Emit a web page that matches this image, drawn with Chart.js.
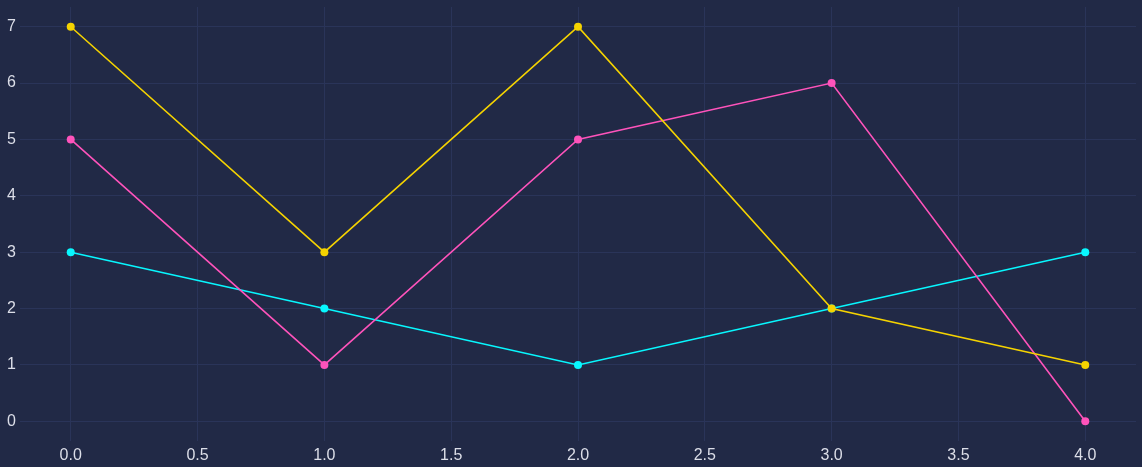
<!DOCTYPE html>
<html>
<head>
<meta charset="utf-8">
<script src="https://cdn.jsdelivr.net/npm/chart.js@4"></script>
<style>
  html, body { margin: 0; padding: 0; background: #212946; }
  #wrap { width: 1142px; height: 467px; }
</style>
</head>
<body>
<div id="wrap"><canvas id="lineChart"></canvas></div>
<script>
// data
const xValues = [0, 1, 2, 3, 4];
const cyanValues = [3, 2, 1, 2, 3];
const pinkValues = [5, 1, 5, 6, 0];
const yellowValues = [7, 3, 7, 2, 1];
const xTicks = [0, 0.5, 1, 1.5, 2, 2.5, 3, 3.5, 4];
const yTicks = [0, 1, 2, 3, 4, 5, 6, 7];

const gridColor = '#2A3459';
const textColor = '#dcdee8';

function toPoints(ys) {
    return xValues.map((x, i) => ({ x: x, y: ys[i] }));
}

function makeSet(ys, color, order) {
    return {
        data: toPoints(ys),
        borderColor: color,
        backgroundColor: color,
        borderWidth: 1.6,
        pointRadius: 4,
        pointBorderWidth: 0,
        pointHoverRadius: 4,
        fill: false,
        tension: 0,
        order: order
    };
}

const ctx = document.getElementById('lineChart');

window.chart = new Chart(ctx, {
    type: 'line',
    data: {
        datasets: [
            makeSet(cyanValues, '#08F7FE', 3),
            makeSet(pinkValues, '#FE53BB', 2),
            makeSet(yellowValues, '#F5D300', 1)
        ]
    },
    options: {
        responsive: true,
        maintainAspectRatio: false,
        animation: false,
        layout: { padding: { left: 0, right: 6, top: 7, bottom: 0 } },
        plugins: {
            legend: { display: false },
            tooltip: { enabled: false }
        },
        scales: {
            x: {
                type: 'linear',
                min: -0.2,
                max: 4.2,
                afterBuildTicks: scale => { scale.ticks = xTicks.map(v => ({ value: v })); },
                afterFit: scale => {
                    scale.height = 26;
                    scale.paddingLeft = 0;
                    scale.paddingRight = 0;
                },
                grid: { color: gridColor, drawTicks: false, lineWidth: 1 },
                border: { display: false },
                ticks: {
                    color: textColor,
                    font: { family: 'Liberation Sans', size: 16 },
                    padding: 5,
                    callback: v => Number(v).toFixed(1)
                }
            },
            y: {
                type: 'linear',
                min: -0.35,
                max: 7.35,
                afterBuildTicks: scale => { scale.ticks = yTicks.map(v => ({ value: v })); },
                afterFit: scale => {
                    scale.width = 20;
                    scale.paddingTop = 0;
                    scale.paddingBottom = 0;
                },
                grid: { color: gridColor, drawTicks: false, lineWidth: 1 },
                border: { display: false },
                ticks: {
                    color: textColor,
                    font: { family: 'Liberation Sans', size: 16 },
                    padding: 4,
                    callback: v => String(v)
                }
            }
        }
    }
});
</script>
</body>
</html>
